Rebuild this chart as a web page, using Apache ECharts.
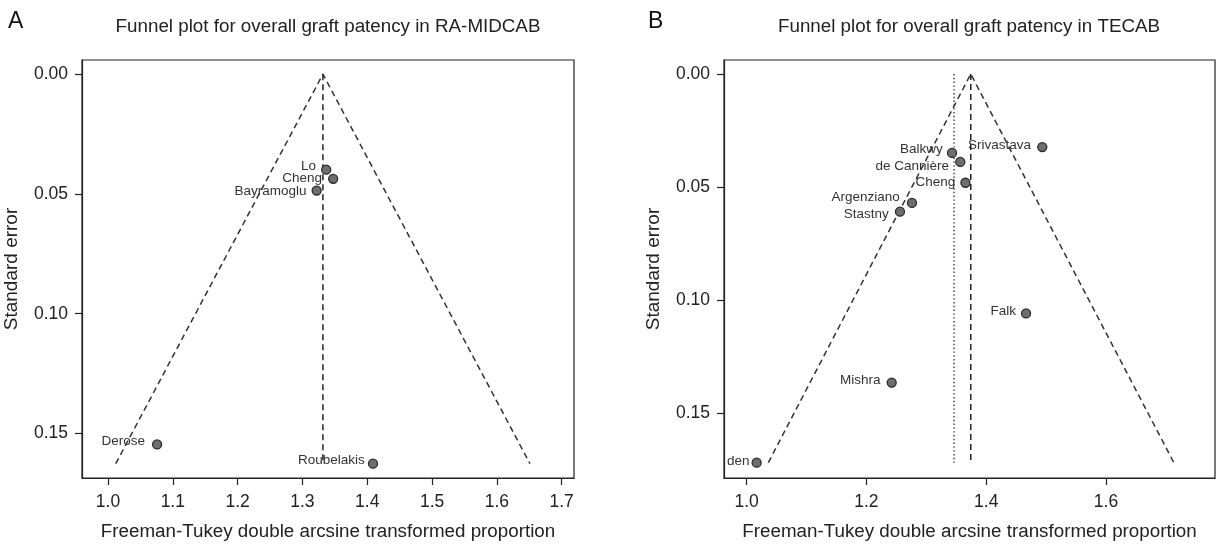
<!DOCTYPE html>
<html>
<head>
<meta charset="utf-8">
<script src="https://cdn.jsdelivr.net/npm/echarts@6/dist/echarts.min.js"></script>
<style>
  html, body { margin: 0; padding: 0; background: #fff; }
  #chart { width: 1219px; height: 544px; }
</style>
</head>
<body>
<div id="chart"></div>
<script>
// ---------- Data ----------
// Panel A: RA-MIDCAB
const studiesA = ['Lo', 'Cheng', 'Bayramoglu', 'Derose', 'Roubelakis'];
const ftA = [1.3367, 1.3474, 1.3219, 1.0758, 1.4089];
const seA = [0.0399, 0.0437, 0.0486, 0.1546, 0.1626];
const funnelA_x = [1.012, 1.3316, 1.651];
const funnelA_se = [0.1626, 0.0, 0.1626];
const pooledA_x = [1.3316, 1.3316];
const pooledA_se = [0.0, 0.1626];

// Panel B: TECAB
const studiesB = ['Srivastava', 'Balkwy', 'de Cannière', 'Cheng', 'Argenziano', 'Stastny', 'Falk', 'Mishra', 'den'];
const ftB = [1.4936, 1.3429, 1.3567, 1.3653, 1.2761, 1.2560, 1.4665, 1.2422, 1.0167];
const seB = [0.0323, 0.0349, 0.0389, 0.0481, 0.0570, 0.0609, 0.1059, 0.1365, 0.1719];
const funnelB_x = [1.0362, 1.3742, 1.7133];
const funnelB_se = [0.1719, 0.0, 0.1719];
const pooledB_x = [1.3742, 1.3742];
const pooledB_se = [0.0, 0.1719];
const fixedB_x = [1.3463, 1.3463];
const fixedB_se = [0.0, 0.1719];

// Tick labels
const yTicks = [0.00, 0.05, 0.10, 0.15];
const xTicksA = [1.0, 1.1, 1.2, 1.3, 1.4, 1.5, 1.6, 1.7];
const xTicksB = [1.0, 1.2, 1.4, 1.6];

const titleA = 'Funnel plot for overall graft patency in RA-MIDCAB';
const titleB = 'Funnel plot for overall graft patency in TECAB';
const xName = 'Freeman-Tukey double arcsine transformed proportion';
const yName = 'Standard error';

// ---------- Styling ----------
const FONT = "'Liberation Sans', Arial, Helvetica, sans-serif";
const INK = '#222';
const labelNudge = {
  A: { 'Lo': [0, -3], 'Cheng': [-1, -1], 'Bayramoglu': [0, 1], 'Derose': [-2, -3], 'Roubelakis': [2, -3] },
  B: { 'Srivastava': [-1, -2], 'Balkwy': [1, -4], 'de Cannière': [-1, 4], 'Cheng': [0, 0],
       'Argenziano': [-2, -6], 'Stastny': [-1, 3], 'Falk': [0, -2], 'Mishra': [-1, -2], 'den': [3, -1] }
};

function pts(xs, ys) { return xs.map((x, i) => [x, ys[i]]); }
function scatterData(names, xs, ys, panel) {
  return names.map((n, i) => ({
    value: [xs[i], ys[i]],
    name: n,
    label: { offset: labelNudge[panel][n] || [0, 0] }
  }));
}

function xAxisCfg(grid, min, max, ticks, dec) {
  return {
    gridIndex: grid, type: 'value', min: min, max: max, position: 'bottom',
    name: xName, nameLocation: 'middle', nameGap: 44,
    nameTextStyle: { fontSize: 18.8, color: INK, fontFamily: FONT },
    axisLine: { show: true, onZero: false, lineStyle: { color: INK, width: 1.2 } },
    axisTick: { show: true, inside: false, length: 7, customValues: ticks, lineStyle: { color: INK, width: 1.2 } },
    axisLabel: { customValues: ticks, margin: 15, fontSize: 17.5, color: INK, fontFamily: FONT,
                 formatter: v => Number(v).toFixed(dec) },
    splitLine: { show: false }
  };
}
function yAxisCfg(grid, min, max) {
  return {
    gridIndex: grid, type: 'value', min: min, max: max, inverse: true, position: 'left',
    name: yName, nameLocation: 'middle', nameGap: 61, nameRotate: 90,
    nameTextStyle: { fontSize: 19, color: INK, fontFamily: FONT },
    axisLine: { show: true, onZero: false, lineStyle: { color: INK, width: 1.2 } },
    axisTick: { show: true, inside: false, length: 7, customValues: yTicks, lineStyle: { color: INK, width: 1.2 } },
    axisLabel: { customValues: yTicks, margin: 14, fontSize: 17.5, color: INK, fontFamily: FONT,
                 formatter: v => Number(v).toFixed(2) },
    splitLine: { show: false }
  };
}
function lineSeries(xi, yi, data, type, color, width) {
  return {
    type: 'line', xAxisIndex: xi, yAxisIndex: yi, data: data,
    symbol: 'none', silent: true, animation: false, z: 1,
    lineStyle: { color: color, width: width, type: type }
  };
}
function scatterSeries(xi, yi, data) {
  return {
    type: 'scatter', xAxisIndex: xi, yAxisIndex: yi, data: data,
    symbol: 'circle', symbolSize: 9, animation: false, z: 3,
    itemStyle: { color: '#6e6e6e', borderColor: '#2a2a2a', borderWidth: 1.3, opacity: 1 },
    label: { show: true, position: 'left', distance: 5, formatter: p => p.name,
             fontSize: 13.5, color: '#333', fontFamily: FONT }
  };
}

const chart = echarts.init(document.getElementById('chart'), null, { renderer: 'canvas' });
chart.setOption({
  backgroundColor: '#fff',
  animation: false,
  grid: [
    { left: 82, top: 60, width: 492, height: 418, outerBoundsMode: 'none', containLabel: false,
      show: true, borderColor: INK, borderWidth: 1.2, backgroundColor: 'transparent' },
    { left: 724, top: 60, width: 491, height: 418, outerBoundsMode: 'none', containLabel: false,
      show: true, borderColor: INK, borderWidth: 1.2, backgroundColor: 'transparent' }
  ],
  xAxis: [
    xAxisCfg(0, 0.9599, 1.719, xTicksA, 1),
    xAxisCfg(1, 0.9622, 1.782, xTicksB, 1)
  ],
  yAxis: [
    yAxisCfg(0, -0.0059, 0.1686),
    yAxisCfg(1, -0.0062, 0.1787)
  ],
  graphic: [
    { type: 'text', x: 8, y: 22, style: { text: 'A', fontSize: 23, fill: '#111', fontFamily: FONT, align: 'left', verticalAlign: 'middle', textAlign: 'left', textVerticalAlign: 'middle' } },
    { type: 'text', x: 648, y: 22, style: { text: 'B', fontSize: 23, fill: '#111', fontFamily: FONT, align: 'left', verticalAlign: 'middle', textAlign: 'left', textVerticalAlign: 'middle' } },
    { type: 'text', x: 328, y: 27, style: { text: titleA, fontSize: 18.8, fill: INK, fontFamily: FONT, align: 'center', verticalAlign: 'middle', textAlign: 'center', textVerticalAlign: 'middle' } },
    { type: 'text', x: 969, y: 27, style: { text: titleB, fontSize: 18.8, fill: INK, fontFamily: FONT, align: 'center', verticalAlign: 'middle', textAlign: 'center', textVerticalAlign: 'middle' } }
  ],
  series: [
    lineSeries(0, 0, pts(funnelA_x, funnelA_se), [6, 4], '#333', 1.5),
    lineSeries(0, 0, pts(pooledA_x, pooledA_se), [6, 4], '#222', 1.5),
    scatterSeries(0, 0, scatterData(studiesA, ftA, seA, 'A')),
    lineSeries(1, 1, pts(funnelB_x, funnelB_se), [6, 4], '#333', 1.5),
    lineSeries(1, 1, pts(pooledB_x, pooledB_se), [6, 4], '#222', 1.5),
    lineSeries(1, 1, pts(fixedB_x, fixedB_se), [1.4, 2.4], '#333', 1.4),
    scatterSeries(1, 1, scatterData(studiesB, ftB, seB, 'B'))
  ]
});
</script>
</body>
</html>
